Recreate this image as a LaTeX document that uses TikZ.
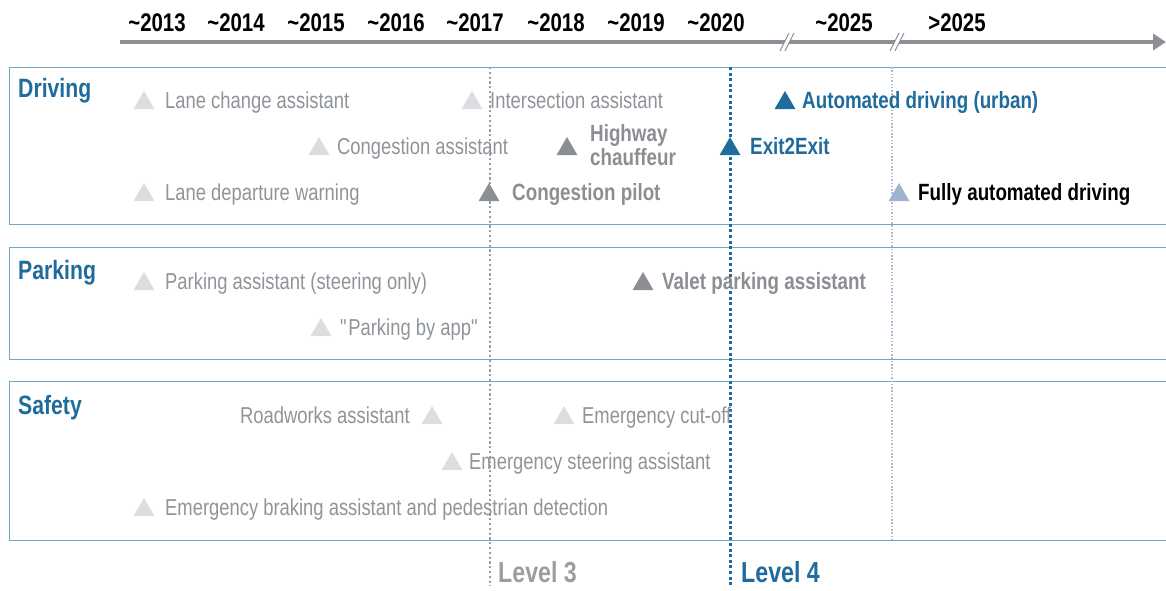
\documentclass[tikz,border=0pt]{standalone}
\usepackage{fontspec}
\setmainfont{Liberation Sans}[FakeStretch=0.8]
\usetikzlibrary{shapes.geometric,arrows.meta}
\definecolor{axisgray}{HTML}{8C9096}
\definecolor{panelblue}{HTML}{6FA7C9}
\definecolor{titleblue}{HTML}{1F6B9C}
\definecolor{fadegray}{HTML}{DCDDE0}
\definecolor{fadetext}{HTML}{8F949A}
\definecolor{midgray}{HTML}{8B8E93}
\definecolor{paleblue}{HTML}{9DB3CF}
\definecolor{lvlgray}{HTML}{9A9DA1}
\definecolor{farline}{HTML}{A9BDD6}

\begin{document}
\begin{tikzpicture}[x=1pt, y=-1pt,
    panel/.style={rectangle, draw=panelblue, line width=1.2pt, minimum width=1170pt, anchor=north west, inner sep=0pt},
    title/.style={anchor=base west, inner sep=0pt, text=titleblue, font=\fontsize{26.5}{28}\selectfont\bfseries},
    year/.style={anchor=base, inner sep=0pt, font=\fontsize{25.5}{28}\selectfont\bfseries},
    tri/.style={regular polygon, regular polygon sides=3, minimum size=24pt, inner sep=0pt, yshift=-3pt},
    fadetri/.style={tri, fill=fadegray},
    keytri/.style={tri, fill=midgray},
    bluetri/.style={tri, fill=titleblue},
    paletri/.style={tri, fill=paleblue},
    item/.style={anchor=base west, inner sep=0pt, align=left},
    fadelbl/.style={item, text=fadetext, font=\fontsize{23}{24}\selectfont},
    keylbl/.style={item, text=midgray, font=\fontsize{23.5}{24}\selectfont\bfseries},
    bluelbl/.style={item, text=titleblue, font=\fontsize{23.5}{24}\selectfont\bfseries},
    blacklbl/.style={item, text=black, font=\fontsize{23.5}{24}\selectfont\bfseries},
    level/.style={anchor=base west, inner sep=0pt, font=\fontsize{29}{29}\selectfont\bfseries},
    axis/.style={draw=axisgray, line width=4pt, -{Triangle[length=13pt, width=16pt]}},
    brk/.style={draw=axisgray, line width=1pt}
]
\useasboundingbox (0,0) rectangle (1166,590);

\foreach \xx/\yr [count=\i] in {157/\textasciitilde2013, 236/\textasciitilde2014, 316/\textasciitilde2015, 396/\textasciitilde2016, 475/\textasciitilde2017, 556/\textasciitilde2018, 636/\textasciitilde2019, 716/\textasciitilde2020, 844/\textasciitilde2025, 957/>2025}
  \node[year] (year\i) at (\xx,31) {\yr};
\draw[axis] (120,42) -- (1166,42);
\foreach \bx in {787,897} {
  \fill[white] (\bx-7,50) -- (\bx-2,50) -- (\bx+7,34) -- (\bx+2,34) -- cycle;
  \draw[brk] (\bx-7,51) -- (\bx+2,33);
  \draw[brk] (\bx-2,51) -- (\bx+7,33);
}

\node[panel, minimum height=157pt] (driving) at (9,67) {};
\node[panel, minimum height=112pt] (parking) at (9,247) {};
\node[panel, minimum height=159pt] (safety) at (9,381) {};
\node[title] (tdriving) at (18,97) {Driving};
\node[title] (tparking) at (18,279) {Parking};
\node[title] (tsafety) at (18,414) {Safety};

\draw[draw=lvlgray, line width=2.5pt, dash pattern=on 2.2pt off 2.6pt] (490,67) -- (490,586);
\draw[draw=titleblue, line width=3pt, dash pattern=on 3pt off 2.6pt] (730,67) -- (730,586);
\draw[draw=farline, line width=1.2pt, dash pattern=on 1.5pt off 1.8pt] (892,67) -- (892,540);
\node[level, text=lvlgray] (lvl3) at (498,582) {Level 3};
\node[level, text=titleblue] (lvl4) at (741,582) {Level 4};

\node[fadetri] (tlanechange) at (144,100) {};
\node[fadelbl] (llanechange) at (165,108) {Lane change assistant};
\node[fadetri] (tintersect) at (472,100) {};
\node[fadelbl] (lintersect) at (490,108) {Intersection assistant};
\node[bluetri] (turban) at (785,100) {};
\node[bluelbl] (lurban) at (802,108) {Automated driving (urban)};
\node[fadetri] (tcongassist) at (319,146) {};
\node[fadelbl] (lcongassist) at (337,154) {Congestion assistant};
\node[keytri] (thighway) at (567,146) {};
\node[keylbl] (lhighway) at (590,165) {Highway\\chauffeur};
\node[bluetri] (texit) at (730,146) {};
\node[bluelbl] (lexit) at (750,154) {Exit2Exit};
\node[fadetri] (tdeparture) at (144,192) {};
\node[fadelbl] (ldeparture) at (165,200) {Lane departure warning};
\node[keytri] (tcongpilot) at (489,192) {};
\node[keylbl] (lcongpilot) at (512,200) {Congestion pilot};
\node[paletri] (tfully) at (899,192) {};
\node[blacklbl] (lfully) at (918,200) {Fully automated driving};

\node[fadetri] (tparkassist) at (144,281) {};
\node[fadelbl] (lparkassist) at (165,289) {Parking assistant (steering only)};
\node[keytri] (tvalet) at (643,281) {};
\node[keylbl] (lvalet) at (662,289) {Valet parking assistant};
\node[fadetri] (tapp) at (321,327) {};
\node[fadelbl] (lapp) at (340,335) {\textquotedbl Parking by app\textquotedbl};

\node[fadetri] (troadworks) at (432,415) {};
\node[fadelbl, anchor=base east] (lroadworks) at (410,423) {Roadworks assistant};
\node[fadetri] (tcutoff) at (564,415) {};
\node[fadelbl] (lcutoff) at (582,423) {Emergency cut-off};
\node[fadetri] (tsteering) at (452,461) {};
\node[fadelbl] (lsteering) at (469,469) {Emergency steering assistant};
\node[fadetri] (tbraking) at (144,507) {};
\node[fadelbl] (lbraking) at (165,515) {Emergency braking assistant and pedestrian detection};
\end{tikzpicture}
\end{document}
